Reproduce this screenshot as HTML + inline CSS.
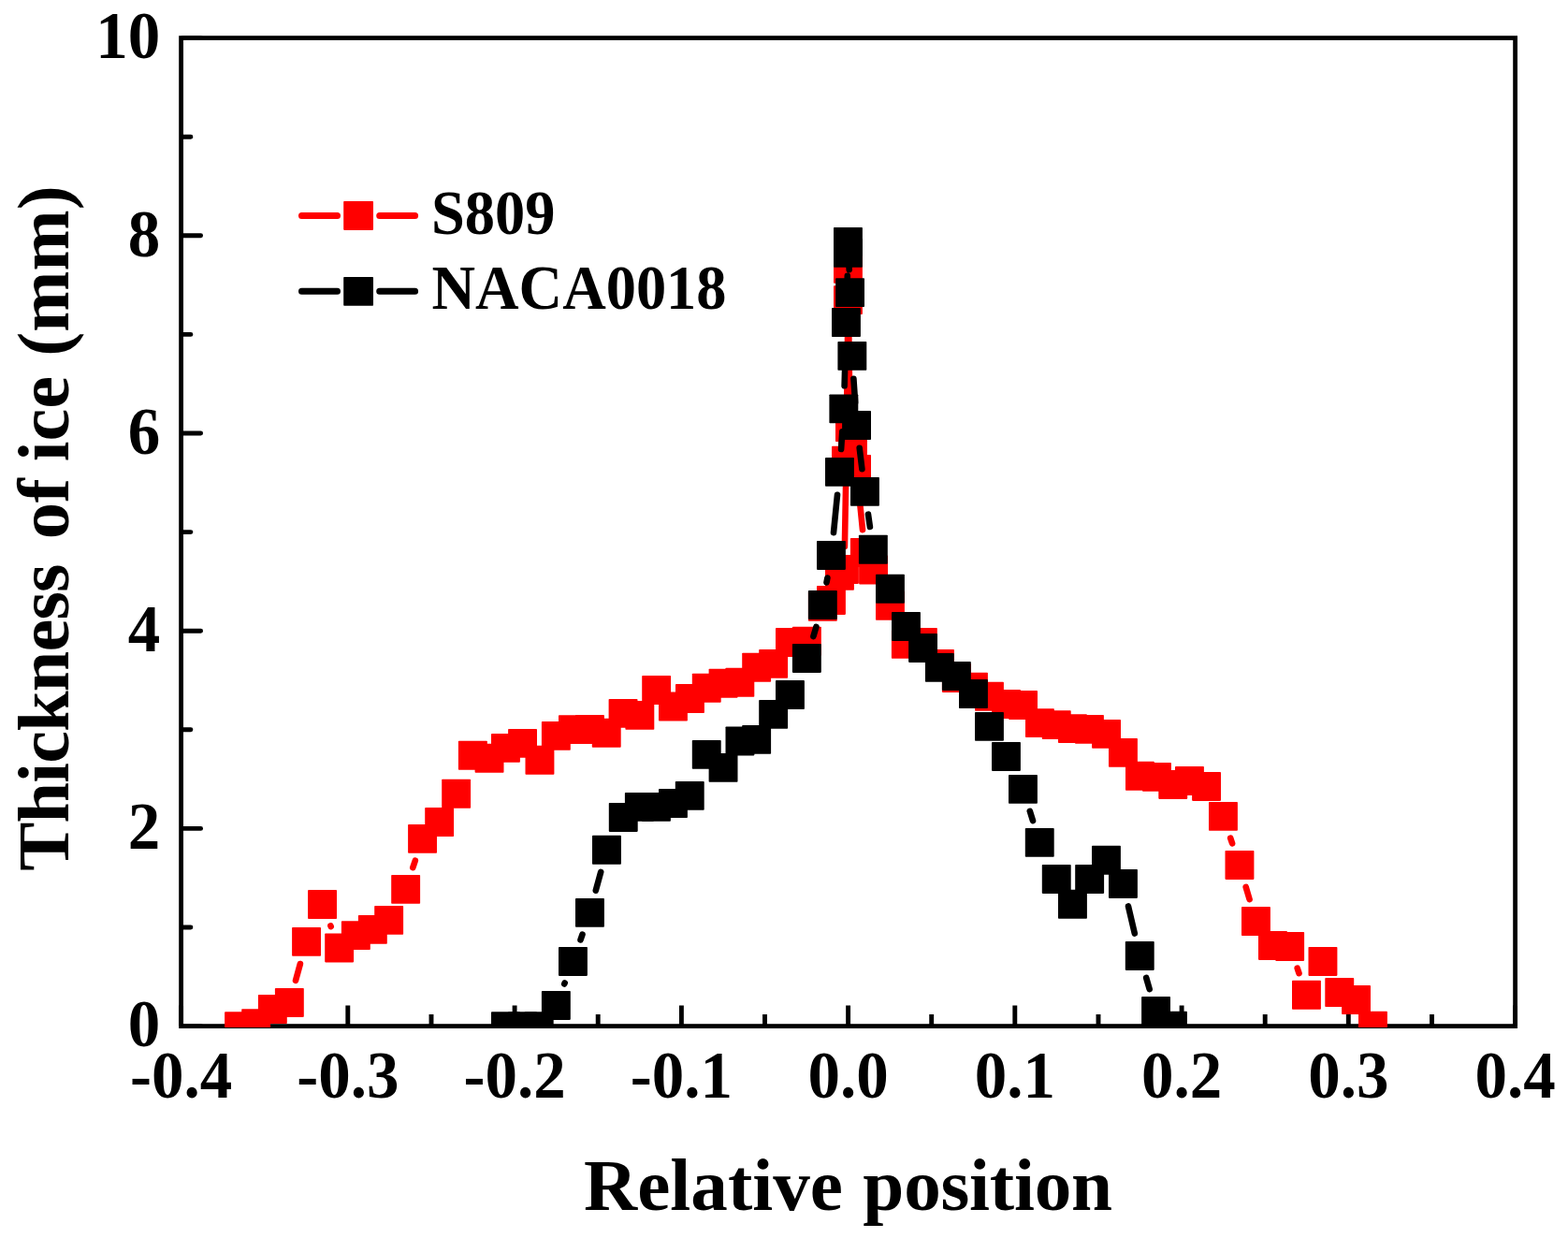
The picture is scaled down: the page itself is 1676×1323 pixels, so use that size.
<!DOCTYPE html>
<html lang="en"><head><meta charset="utf-8"><title>Thickness of ice vs relative position</title>
<style>html,body{margin:0;padding:0;background:#fff}body{width:1676px;height:1323px;overflow:hidden}svg{display:block}</style>
</head><body>
<svg width="1676" height="1323" viewBox="0 0 1676 1323">
<rect width="1676" height="1323" fill="#fff"/>
<rect x="193.6" y="40.6" width="1426.0" height="1056.0" fill="none" stroke="#000" stroke-width="4.8"/>
<path d="M193.6 1096.6V1074.4M282.7 1096.6V1083.9M371.8 1096.6V1074.4M461.0 1096.6V1083.9M550.1 1096.6V1074.4M639.2 1096.6V1083.9M728.4 1096.6V1074.4M817.5 1096.6V1083.9M906.6 1096.6V1074.4M995.7 1096.6V1083.9M1084.8 1096.6V1074.4M1174.0 1096.6V1083.9M1263.1 1096.6V1074.4M1352.2 1096.6V1083.9M1441.3 1096.6V1074.4M1530.5 1096.6V1083.9M1619.6 1096.6V1074.4" fill="none" stroke="#000" stroke-width="4.9"/>
<path d="M195.1 1096.6H214.6M195.1 991.0H203.9M195.1 885.4H214.6M195.1 779.8H203.9M195.1 674.2H214.6M195.1 568.6H203.9M195.1 463.0H214.6M195.1 357.4H203.9M195.1 251.8H214.6M195.1 146.2H203.9M195.1 40.6H214.6" fill="none" stroke="#000" stroke-width="4.9" stroke-linecap="round"/>
<clipPath id="c"><rect x="191.2" y="38.2" width="1430.8" height="1059.9"/></clipPath>
<g clip-path="url(#c)">
<path d="M316.0 1047.8L320.9 1030.0M353.4 989.4L353.7 990.2M441.3 927.1L443.8 919.7M902.9 584.0L904.1 516.7M904.8 467.7L906.2 345.1M906.8 311.8L908.2 432.2M918.0 525.9L922.0 566.1M1315.2 895.6L1317.1 901.3M1331.7 948.0L1335.6 961.1M1386.7 1034.7L1388.5 1040.1" fill="none" stroke="#ff0000" stroke-width="6.6" stroke-linecap="round"/>
<g fill="#ff0000">
<rect x="240.1" y="1081.2" width="30.9" height="30.9" rx="0.8"/>
<rect x="258.2" y="1078.2" width="30.9" height="30.9" rx="0.8"/>
<rect x="275.9" y="1063.1" width="30.9" height="30.9" rx="0.8"/>
<rect x="293.9" y="1056.0" width="30.9" height="30.9" rx="0.8"/>
<rect x="312.1" y="990.9" width="30.9" height="30.9" rx="0.8"/>
<rect x="329.1" y="951.1" width="30.9" height="30.9" rx="0.8"/>
<rect x="347.2" y="997.5" width="30.9" height="30.9" rx="0.8"/>
<rect x="364.9" y="984.2" width="30.9" height="30.9" rx="0.8"/>
<rect x="382.9" y="977.9" width="30.9" height="30.9" rx="0.8"/>
<rect x="400.2" y="967.9" width="30.9" height="30.9" rx="0.8"/>
<rect x="418.2" y="934.9" width="30.9" height="30.9" rx="0.8"/>
<rect x="436.1" y="880.9" width="30.9" height="30.9" rx="0.8"/>
<rect x="454.2" y="863.1" width="30.9" height="30.9" rx="0.8"/>
<rect x="472.2" y="832.8" width="30.9" height="30.9" rx="0.8"/>
<rect x="489.9" y="791.8" width="30.9" height="30.9" rx="0.8"/>
<rect x="507.6" y="794.8" width="30.9" height="30.9" rx="0.8"/>
<rect x="525.0" y="783.9" width="30.9" height="30.9" rx="0.8"/>
<rect x="543.1" y="778.9" width="30.9" height="30.9" rx="0.8"/>
<rect x="561.5" y="796.8" width="30.9" height="30.9" rx="0.8"/>
<rect x="578.9" y="770.9" width="30.9" height="30.9" rx="0.8"/>
<rect x="597.0" y="764.2" width="30.9" height="30.9" rx="0.8"/>
<rect x="615.0" y="764.1" width="30.9" height="30.9" rx="0.8"/>
<rect x="632.8" y="767.8" width="30.9" height="30.9" rx="0.8"/>
<rect x="650.6" y="746.9" width="30.9" height="30.9" rx="0.8"/>
<rect x="668.4" y="748.9" width="30.9" height="30.9" rx="0.8"/>
<rect x="686.2" y="722.1" width="30.9" height="30.9" rx="0.8"/>
<rect x="704.0" y="739.6" width="30.9" height="30.9" rx="0.8"/>
<rect x="722.0" y="731.1" width="30.9" height="30.9" rx="0.8"/>
<rect x="739.8" y="719.8" width="30.9" height="30.9" rx="0.8"/>
<rect x="757.6" y="714.8" width="30.9" height="30.9" rx="0.8"/>
<rect x="775.4" y="713.8" width="30.9" height="30.9" rx="0.8"/>
<rect x="793.2" y="697.8" width="30.9" height="30.9" rx="0.8"/>
<rect x="811.2" y="693.9" width="30.9" height="30.9" rx="0.8"/>
<rect x="829.0" y="671.0" width="30.9" height="30.9" rx="0.8"/>
<rect x="846.9" y="669.8" width="30.9" height="30.9" rx="0.8"/>
<rect x="863.9" y="632.8" width="30.9" height="30.9" rx="0.8"/>
<rect x="873.0" y="626.0" width="30.9" height="30.9" rx="0.8"/>
<rect x="882.0" y="599.9" width="30.9" height="30.9" rx="0.8"/>
<rect x="887.0" y="593.0" width="30.9" height="30.9" rx="0.8"/>
<rect x="889.0" y="476.8" width="30.9" height="30.9" rx="0.8"/>
<rect x="891.0" y="305.2" width="30.9" height="30.9" rx="0.8"/>
<rect x="891.0" y="271.9" width="30.9" height="30.9" rx="0.8"/>
<rect x="893.0" y="441.2" width="30.9" height="30.9" rx="0.8"/>
<rect x="896.0" y="462.2" width="30.9" height="30.9" rx="0.8"/>
<rect x="900.1" y="486.1" width="30.9" height="30.9" rx="0.8"/>
<rect x="908.9" y="575.0" width="30.9" height="30.9" rx="0.8"/>
<rect x="918.1" y="593.5" width="30.9" height="30.9" rx="0.8"/>
<rect x="936.0" y="631.8" width="30.9" height="30.9" rx="0.8"/>
<rect x="952.9" y="672.9" width="30.9" height="30.9" rx="0.8"/>
<rect x="970.9" y="670.9" width="30.9" height="30.9" rx="0.8"/>
<rect x="989.0" y="694.0" width="30.9" height="30.9" rx="0.8"/>
<rect x="1006.9" y="709.0" width="30.9" height="30.9" rx="0.8"/>
<rect x="1025.0" y="718.8" width="30.9" height="30.9" rx="0.8"/>
<rect x="1042.0" y="728.8" width="30.9" height="30.9" rx="0.8"/>
<rect x="1060.1" y="737.1" width="30.9" height="30.9" rx="0.8"/>
<rect x="1078.1" y="738.1" width="30.9" height="30.9" rx="0.8"/>
<rect x="1096.0" y="757.2" width="30.9" height="30.9" rx="0.8"/>
<rect x="1113.8" y="759.2" width="30.9" height="30.9" rx="0.8"/>
<rect x="1131.0" y="763.2" width="30.9" height="30.9" rx="0.8"/>
<rect x="1149.0" y="763.9" width="30.9" height="30.9" rx="0.8"/>
<rect x="1167.1" y="768.9" width="30.9" height="30.9" rx="0.8"/>
<rect x="1185.0" y="788.9" width="30.9" height="30.9" rx="0.8"/>
<rect x="1203.0" y="813.8" width="30.9" height="30.9" rx="0.8"/>
<rect x="1221.0" y="814.9" width="30.9" height="30.9" rx="0.8"/>
<rect x="1238.3" y="823.0" width="30.9" height="30.9" rx="0.8"/>
<rect x="1256.0" y="819.0" width="30.9" height="30.9" rx="0.8"/>
<rect x="1274.1" y="825.0" width="30.9" height="30.9" rx="0.8"/>
<rect x="1292.0" y="856.9" width="30.9" height="30.9" rx="0.8"/>
<rect x="1309.5" y="909.0" width="30.9" height="30.9" rx="0.8"/>
<rect x="1327.0" y="969.1" width="30.9" height="30.9" rx="0.8"/>
<rect x="1345.0" y="995.0" width="30.9" height="30.9" rx="0.8"/>
<rect x="1363.2" y="996.0" width="30.9" height="30.9" rx="0.8"/>
<rect x="1381.0" y="1047.8" width="30.9" height="30.9" rx="0.8"/>
<rect x="1398.5" y="1012.0" width="30.9" height="30.9" rx="0.8"/>
<rect x="1416.3" y="1045.1" width="30.9" height="30.9" rx="0.8"/>
<rect x="1434.1" y="1053.1" width="30.9" height="30.9" rx="0.8"/>
<rect x="1452.0" y="1080.8" width="30.9" height="30.9" rx="0.8"/>
</g>
<path d="M603.2 1051.5L603.7 1050.4M620.5 1004.3L622.5 998.6M636.8 951.7L642.2 931.9M869.4 680.0L872.4 670.0M883.5 622.4L884.4 617.6M891.0 569.1L895.0 528.8M899.1 480.0L900.3 461.2M902.6 412.3L903.8 369.0M905.2 320.0L905.8 294.9M907.4 282.8L907.7 288.2M909.4 337.2L910.1 355.8M912.4 404.8L914.1 430.0M918.7 478.8L921.4 501.1M928.0 549.7L929.9 563.0M1100.8 866.8L1104.0 877.0M1206.0 968.4L1212.8 997.6M1225.2 1045.0L1228.7 1057.1" fill="none" stroke="#000" stroke-width="6.6" stroke-linecap="round"/>
<g fill="#000">
<rect x="525.0" y="1081.2" width="30.9" height="30.9" rx="0.8"/>
<rect x="543.0" y="1081.2" width="30.9" height="30.9" rx="0.8"/>
<rect x="560.8" y="1081.2" width="30.9" height="30.9" rx="0.8"/>
<rect x="578.9" y="1059.0" width="30.9" height="30.9" rx="0.8"/>
<rect x="597.0" y="1012.0" width="30.9" height="30.9" rx="0.8"/>
<rect x="615.0" y="959.9" width="30.9" height="30.9" rx="0.8"/>
<rect x="633.0" y="892.8" width="30.9" height="30.9" rx="0.8"/>
<rect x="650.8" y="858.0" width="30.9" height="30.9" rx="0.8"/>
<rect x="667.9" y="846.9" width="30.9" height="30.9" rx="0.8"/>
<rect x="686.0" y="846.9" width="30.9" height="30.9" rx="0.8"/>
<rect x="704.0" y="843.1" width="30.9" height="30.9" rx="0.8"/>
<rect x="721.8" y="834.9" width="30.9" height="30.9" rx="0.8"/>
<rect x="739.8" y="790.9" width="30.9" height="30.9" rx="0.8"/>
<rect x="757.6" y="804.9" width="30.9" height="30.9" rx="0.8"/>
<rect x="775.5" y="776.5" width="30.9" height="30.9" rx="0.8"/>
<rect x="793.2" y="774.9" width="30.9" height="30.9" rx="0.8"/>
<rect x="811.2" y="747.9" width="30.9" height="30.9" rx="0.8"/>
<rect x="829.0" y="727.1" width="30.9" height="30.9" rx="0.8"/>
<rect x="846.9" y="688.0" width="30.9" height="30.9" rx="0.8"/>
<rect x="863.9" y="631.0" width="30.9" height="30.9" rx="0.8"/>
<rect x="873.0" y="578.0" width="30.9" height="30.9" rx="0.8"/>
<rect x="882.0" y="488.9" width="30.9" height="30.9" rx="0.8"/>
<rect x="886.4" y="421.4" width="30.9" height="30.9" rx="0.8"/>
<rect x="889.0" y="329.1" width="30.9" height="30.9" rx="0.8"/>
<rect x="891.0" y="254.9" width="30.9" height="30.9" rx="0.8"/>
<rect x="891.0" y="242.9" width="30.9" height="30.9" rx="0.8"/>
<rect x="893.1" y="297.2" width="30.9" height="30.9" rx="0.8"/>
<rect x="895.4" y="364.9" width="30.9" height="30.9" rx="0.8"/>
<rect x="900.1" y="439.1" width="30.9" height="30.9" rx="0.8"/>
<rect x="909.0" y="509.9" width="30.9" height="30.9" rx="0.8"/>
<rect x="917.9" y="571.8" width="30.9" height="30.9" rx="0.8"/>
<rect x="936.0" y="613.8" width="30.9" height="30.9" rx="0.8"/>
<rect x="953.0" y="654.0" width="30.9" height="30.9" rx="0.8"/>
<rect x="971.1" y="677.0" width="30.9" height="30.9" rx="0.8"/>
<rect x="988.9" y="697.9" width="30.9" height="30.9" rx="0.8"/>
<rect x="1006.9" y="707.0" width="30.9" height="30.9" rx="0.8"/>
<rect x="1025.0" y="726.1" width="30.9" height="30.9" rx="0.8"/>
<rect x="1042.0" y="760.9" width="30.9" height="30.9" rx="0.8"/>
<rect x="1060.0" y="793.0" width="30.9" height="30.9" rx="0.8"/>
<rect x="1078.0" y="827.9" width="30.9" height="30.9" rx="0.8"/>
<rect x="1095.8" y="884.9" width="30.9" height="30.9" rx="0.8"/>
<rect x="1113.8" y="924.0" width="30.9" height="30.9" rx="0.8"/>
<rect x="1131.0" y="950.8" width="30.9" height="30.9" rx="0.8"/>
<rect x="1149.2" y="924.0" width="30.9" height="30.9" rx="0.8"/>
<rect x="1167.0" y="903.8" width="30.9" height="30.9" rx="0.8"/>
<rect x="1185.0" y="929.0" width="30.9" height="30.9" rx="0.8"/>
<rect x="1202.8" y="1006.0" width="30.9" height="30.9" rx="0.8"/>
<rect x="1220.1" y="1065.1" width="30.9" height="30.9" rx="0.8"/>
<rect x="1238.0" y="1080.8" width="30.9" height="30.9" rx="0.8"/>
</g>
</g>
<path d="M322.5 230.4H360.5M405.7 230.4H443.6" stroke="#ff0000" stroke-width="7.0" stroke-linecap="round" fill="none"/>
<rect x="367.2" y="215.0" width="31.8" height="30.9" rx="0.8" fill="#ff0000"/>
<path d="M322.5 311.3H360.5M405.7 311.3H443.6" stroke="#000" stroke-width="7.0" stroke-linecap="round" fill="none"/>
<rect x="367.2" y="295.9" width="31.8" height="30.9" rx="0.8" fill="#000"/>
<g font-family="'Liberation Serif', 'Times New Roman', serif" font-weight="bold" fill="#000">
<text transform="translate(461.00 249.80) scale(0.9550 1)" font-size="67.50" text-anchor="start">S809</text>
<text transform="translate(461.50 330.40) scale(0.9550 1)" font-size="67.50" text-anchor="start">NACA0018</text>
<text transform="translate(171.30 1118.40) scale(0.9720 1)" font-size="71.00" text-anchor="end">0</text>
<text transform="translate(171.30 907.20) scale(0.9720 1)" font-size="71.00" text-anchor="end">2</text>
<text transform="translate(171.30 696.00) scale(0.9720 1)" font-size="71.00" text-anchor="end">4</text>
<text transform="translate(171.30 484.80) scale(0.9720 1)" font-size="71.00" text-anchor="end">6</text>
<text transform="translate(171.30 273.60) scale(0.9720 1)" font-size="71.00" text-anchor="end">8</text>
<text transform="translate(171.30 62.40) scale(0.9720 1)" font-size="71.00" text-anchor="end">10</text>
<text transform="translate(193.60 1172.80) scale(0.9720 1)" font-size="71.00" text-anchor="middle">-0.4</text>
<text transform="translate(371.85 1172.80) scale(0.9720 1)" font-size="71.00" text-anchor="middle">-0.3</text>
<text transform="translate(550.10 1172.80) scale(0.9720 1)" font-size="71.00" text-anchor="middle">-0.2</text>
<text transform="translate(728.35 1172.80) scale(0.9720 1)" font-size="71.00" text-anchor="middle">-0.1</text>
<text transform="translate(906.60 1172.80) scale(0.9720 1)" font-size="71.00" text-anchor="middle">0.0</text>
<text transform="translate(1084.85 1172.80) scale(0.9720 1)" font-size="71.00" text-anchor="middle">0.1</text>
<text transform="translate(1263.10 1172.80) scale(0.9720 1)" font-size="71.00" text-anchor="middle">0.2</text>
<text transform="translate(1441.35 1172.80) scale(0.9720 1)" font-size="71.00" text-anchor="middle">0.3</text>
<text transform="translate(1619.60 1172.80) scale(0.9720 1)" font-size="71.00" text-anchor="middle">0.4</text>
<text dx="0 0 0 0 0 0 0 0 1.8 -0.22 -0.22 -0.22 -0.22 -0.22 -0.22 -0.22 -0.22" transform="translate(906.60 1292.50) scale(1.0240 1)" font-size="77.30" text-anchor="middle">Relative position</text>
<text dx="0 -0.82 -0.82 -0.82 -0.82 -0.82 -0.82 -0.82 -0.82 6.58 0 0 -1.6 0 0 0 1.6 0 0 0 0" transform="translate(73.00 564.50) rotate(-90) scale(1.0100 1)" font-size="77.50" text-anchor="middle">Thickness of ice (mm)</text>
</g>
</svg>
</body></html>
